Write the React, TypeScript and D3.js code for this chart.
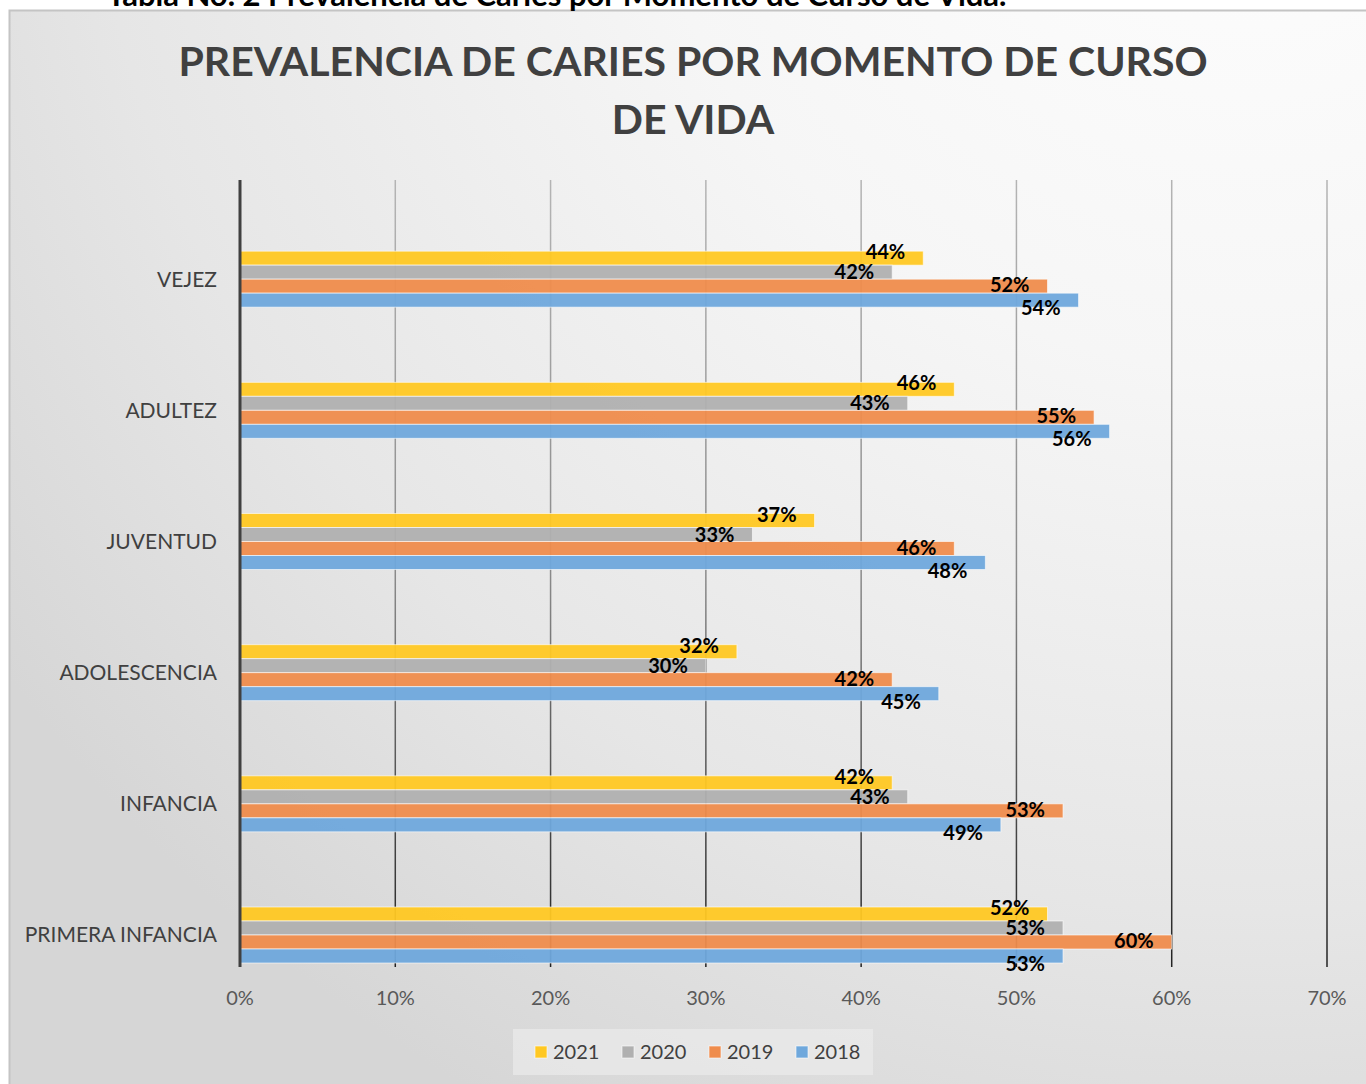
import React from 'react';
import {scaleLinear, scaleBand} from 'd3';

// categorias (de arriba hacia abajo, como en la grafica)
const categories = ['VEJEZ', 'ADULTEZ', 'JUVENTUD', 'ADOLESCENCIA', 'INFANCIA', 'PRIMERA INFANCIA'];
const series = ['2021', '2020', '2019', '2018'];
const colors = ['#ffc823', '#b0b0b0', '#ef8c4c', '#6fa8dc'];

// valores en % por serie, en el orden de categories
const v2021 = [44, 46, 37, 32, 42, 52];
const v2020 = [42, 43, 33, 30, 43, 53];
const v2019 = [52, 55, 46, 42, 53, 60];
const v2018 = [54, 56, 48, 45, 49, 53];
const values = [v2021, v2020, v2019, v2018];

const tickValues = [0, 10, 20, 30, 40, 50, 60, 70];
const font = 'Lato, "Open Sans", sans-serif';

const App = () => {
    const x = scaleLinear().domain([0, 70]).range([240, 1327]);
    const y = scaleBand().domain(categories).range([180, 967]);
    const barH = 14;
    const inner = scaleBand().domain(series).range([0, barH * series.length]);
    // el grupo de barras va pegado abajo de cada banda
    const groupTop = (c: string) => (y(c) as number) + y.bandwidth() - barH * series.length - 4;
    const labelShift = [-6, 0, -1, 8]; // separa un poco las etiquetas como en excel

    const legendX = scaleBand().domain(series).range([535, 883]);

    return (
        <svg width={1366} height={1084} style={{position: 'absolute', left: 0, top: 0}}>
            <defs>
                <radialGradient id="bg" gradientUnits="userSpaceOnUse" cx={1250} cy={-250} r={1550}>
                    <stop offset="0" stopColor="#ffffff"/>
                    <stop offset="0.4" stopColor="#f6f6f6"/>
                    <stop offset="0.75" stopColor="#e6e6e6"/>
                    <stop offset="1" stopColor="#d6d6d6"/>
                </radialGradient>
                <linearGradient id="grid" gradientUnits="userSpaceOnUse" x1={0} y1={180} x2={0} y2={967}>
                    <stop offset="0" stopColor="#b4b4b4"/>
                    <stop offset="0.5" stopColor="#8a8a8a"/>
                    <stop offset="1" stopColor="#222222"/>
                </linearGradient>
            </defs>
            <rect x={0} y={0} width={1366} height={1084} fill="#ffffff"/>
            <rect x={9.5} y={10.5} width={1400} height={1100} fill="url(#bg)" stroke="#c4c4c4" strokeWidth={2}/>

            <text x={107} y={6} fontFamily={font} fontWeight="bold" fontSize={31} fill="#000">
                Tabla No. 2 Prevalencia de Caries por Momento de Curso de Vida.
            </text>

            <text textAnchor="middle" fontFamily={font} fontWeight="bold" fontSize={41} fill="#404040">
                <tspan x={693} y={76}>PREVALENCIA DE CARIES POR MOMENTO DE CURSO</tspan>
                <tspan x={693} y={134}>DE VIDA</tspan>
            </text>

            {/* lineas de cuadricula */}
            {tickValues.slice(1).map(t => (
                <line key={t} x1={x(t)} x2={x(t)} y1={180} y2={967} stroke="url(#grid)" strokeWidth={1.5}/>
            ))}

            {/* barras */}
            {categories.map((c, ci) => (
                <g key={c}>
                    {series.map((s, si) => (
                        <rect key={s}
                              x={x(0)}
                              y={groupTop(c) + (inner(s) as number)}
                              width={x(values[si][ci]) - x(0)}
                              height={inner.bandwidth()}
                              fill={colors[si]}
                              fillOpacity={0.95}
                              stroke="#ffffff" strokeOpacity={0.6} strokeWidth={1}/>
                    ))}
                </g>
            ))}

            {/* etiquetas de datos */}
            {categories.map((c, ci) => series.map((s, si) => (
                <text key={c + s}
                      x={x(values[si][ci]) - 18}
                      y={groupTop(c) + (inner(s) as number) + inner.bandwidth() / 2 + labelShift[si]}
                      dy="0.35em" textAnchor="end"
                      fontFamily={font} fontWeight="bold" fontSize={20} fill="#000">
                    {values[si][ci]}%
                </text>
            )))}

            {/* eje vertical */}
            <line x1={x(0)} x2={x(0)} y1={180} y2={967} stroke="#404040" strokeWidth={3}/>

            {/* etiquetas de categorias */}
            {categories.map(c => (
                <text key={c} x={217} y={groupTop(c) + barH * series.length / 2}
                      dy="0.35em" textAnchor="end" fontFamily={font} fontSize={21} fill="#404040">
                    {c}
                </text>
            ))}

            {/* etiquetas del eje x */}
            {tickValues.map(t => (
                <text key={t} x={x(t)} y={998} dy="0.35em" textAnchor="middle"
                      fontFamily={font} fontSize={20} fill="#595959">
                    {t}%
                </text>
            ))}

            {/* leyenda */}
            <rect x={513} y={1029} width={360} height={46} fill="#ebebeb" fillOpacity={0.7}/>
            {series.map((s, i) => (
                <g key={s}>
                    <rect x={legendX(s)} y={1046} width={12} height={12} fill={colors[i]} stroke="#ffffff" strokeOpacity={0.6}/>
                    <text x={(legendX(s) as number) + 18} y={1052} dy="0.35em" fontFamily={font} fontSize={20} fill="#404040">{s}</text>
                </g>
            ))}
        </svg>
    );
};

export default App;
